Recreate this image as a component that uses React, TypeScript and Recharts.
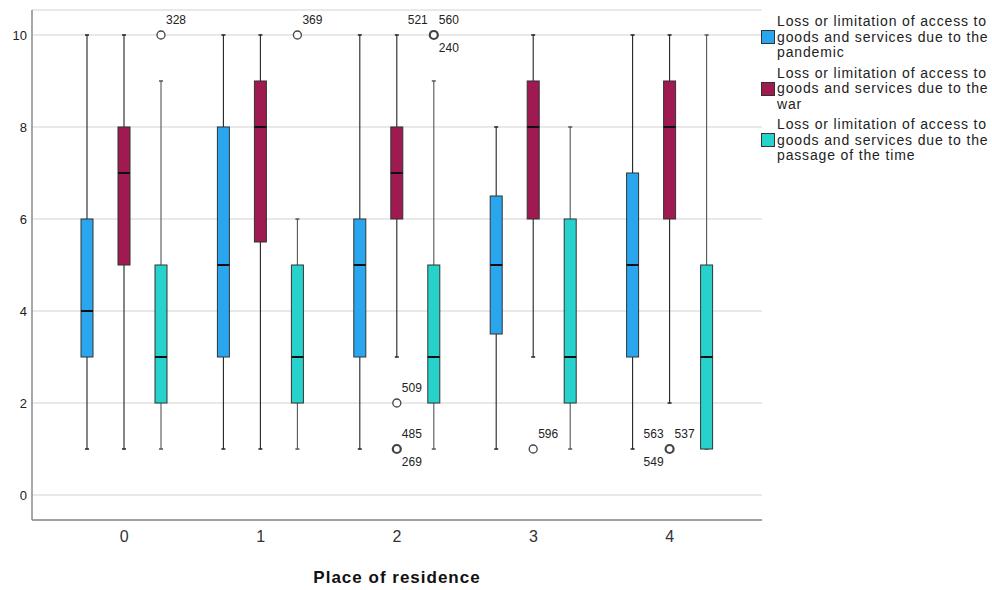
import { ComposedChart, Bar, XAxis, YAxis, CartesianGrid } from 'recharts';

const groups = ['0', '1', '2', '3', '4'];

// per group: [min, q1, median, q3, max]
const pandemicStats = [
  [1, 3, 4, 6, 10],
  [1, 3, 5, 8, 10],
  [1, 3, 5, 6, 10],
  [1, 3.5, 5, 6.5, 8],
  [1, 3, 5, 7, 10],
];
const warStats = [
  [1, 5, 7, 8, 10],
  [1, 5.5, 8, 9, 10],
  [3, 6, 7, 8, 10],
  [3, 6, 8, 9, 10],
  [2, 6, 8, 9, 10],
];
const timeStats = [
  [1, 2, 3, 5, 9],
  [1, 2, 3, 5, 6],
  [1, 2, 3, 5, 9],
  [1, 2, 3, 6, 8],
  [1, 1, 3, 5, 10],
];

const outliers = [
  { group: '0', series: 'time', value: 10, cases: ['328'] },
  { group: '1', series: 'time', value: 10, cases: ['369'] },
  { group: '2', series: 'war', value: 2, cases: ['509'] },
  { group: '2', series: 'war', value: 1, cases: ['485', '269'] },
  { group: '2', series: 'time', value: 10, cases: ['521', '560', '240'] },
  { group: '3', series: 'war', value: 1, cases: ['596'] },
  { group: '4', series: 'war', value: 1, cases: ['563', '537', '549'] },
];

// where each case label sits around its circle
const labelSpot: Record<string, string> = {
  '328': 'ne', '369': 'ne', '509': 'ne', '485': 'ne', '269': 'se',
  '521': 'nw', '560': 'ne', '240': 'se', '596': 'ne',
  '563': 'nw', '537': 'ne', '549': 'sw',
};

const series = [
  { key: 'pandemic', color: '#2aa6ef', whisker: '#222', name: 'Loss or limitation of access to goods and services due to the pandemic' },
  { key: 'war', color: '#9e1a50', whisker: '#222', name: 'Loss or limitation of access to goods and services due to the war' },
  { key: 'time', color: '#27d2cd', whisker: '#555', name: 'Loss or limitation of access to goods and services due to the passage of the time' },
];

const data = groups.map((g, i) => ({
  group: g,
  pandemic: [pandemicStats[i][0], pandemicStats[i][4]],
  war: [warStats[i][0], warStats[i][4]],
  time: [timeStats[i][0], timeStats[i][4]],
  stats: { pandemic: pandemicStats[i], war: warStats[i], time: timeStats[i] } as Record<string, number[]>,
}));

const font = 'Arial, "Liberation Sans", sans-serif';

function BoxShape(props: any) {
  const { x, y, width, height, payload, seriesKey, fill, whisker } = props;
  const [lo, q1, med, q3, hi] = payload.stats[seriesKey];
  // map values through the bar's own scale (y = max, y + height = min)
  const vy = (v: number) => y + (height * (hi - v)) / (hi - lo);
  const cx = x + width / 2;
  const pts = outliers.filter((o) => o.group === payload.group && o.series === seriesKey);
  return (
    <g>
      <line x1={cx} x2={cx} y1={vy(hi)} y2={vy(lo)} stroke={whisker} strokeWidth={1.1} />
      <line x1={cx - 2} x2={cx + 2} y1={vy(hi)} y2={vy(hi)} stroke={whisker} strokeWidth={1.5} />
      <line x1={cx - 2} x2={cx + 2} y1={vy(lo)} y2={vy(lo)} stroke={whisker} strokeWidth={1.5} />
      <rect x={x} y={vy(q3)} width={width} height={vy(q1) - vy(q3)} fill={fill} stroke="#333" strokeWidth={1} />
      <line x1={x} x2={x + width} y1={vy(med)} y2={vy(med)} stroke="#111" strokeWidth={2} />
      {pts.map((o) => {
        const oy = vy(o.value);
        return (
          <g key={o.cases.join('-')}>
            <circle cx={cx} cy={oy} r={4} fill="#fff" stroke="#444" strokeWidth={o.cases.length > 1 ? 2.2 : 1.3} />
            {o.cases.map((c) => {
              const spot = labelSpot[c];
              const east = spot.endsWith('e');
              const north = spot.startsWith('n');
              return (
                <text
                  key={c}
                  x={east ? cx + 5 : cx - 6}
                  y={north ? oy - 11 : oy + 17}
                  textAnchor={east ? 'start' : 'end'}
                  fontSize={12}
                  fill="#222"
                  fontFamily={font}
                >
                  {c}
                </text>
              );
            })}
          </g>
        );
      })}
    </g>
  );
}

function SideLegend() {
  return (
    <div style={{ position: 'absolute', left: 761, top: 14, width: 231, fontFamily: font, fontSize: 14, letterSpacing: '0.85px', lineHeight: '15.5px', color: '#222' }}>
      {series.map((s) => (
        <div key={s.key} style={{ position: 'relative', paddingLeft: 16, marginBottom: 5 }}>
          <span style={{ position: 'absolute', left: 0, top: 16, width: 12, height: 12, background: s.color, border: '1px solid #333' }} />
          {s.name}
        </div>
      ))}
    </div>
  );
}

export default function App() {
  return (
    <div style={{ position: 'absolute', left: 0, top: 0, width: 992, height: 590, background: '#fff' }}>
      <ComposedChart
        width={992}
        height={590}
        data={data}
        margin={{ top: 10, right: 230, bottom: 0, left: 0 }}
        barSize={12}
        barGap={25}
      >
        <CartesianGrid vertical={false} stroke="#d2d2d2" />
        <XAxis
          dataKey="group"
          height={70}
          padding={{ left: 24, right: 24 }}
          tickLine={false}
          tickSize={0}
          tickMargin={11}
          axisLine={{ stroke: '#8a8a8a', strokeWidth: 1.5 }}
          tick={{ fontSize: 16, fill: '#333', fontFamily: font }}
          label={{ value: 'Place of residence', position: 'insideBottom', offset: 7, fontSize: 17, letterSpacing: 1, fontWeight: 'bold', fill: '#111', fontFamily: font }}
        />
        <YAxis
          width={32}
          type="number"
          domain={[-0.543, 10.543]}
          allowDataOverflow
          ticks={[0, 2, 4, 6, 8, 10]}
          tickLine={false}
          tickSize={0}
          tickMargin={5}
          axisLine={{ stroke: '#8a8a8a', strokeWidth: 1.5 }}
          tick={{ fontSize: 13, fill: '#222', fontFamily: font }}
        />
        {series.map((s) => (
          <Bar
            key={s.key}
            dataKey={s.key}
            fill={s.color}
            isAnimationActive={false}
            shape={(p: any) => <BoxShape {...p} seriesKey={s.key} whisker={s.whisker} />}
          />
        ))}
      </ComposedChart>
      <SideLegend />
    </div>
  );
}
